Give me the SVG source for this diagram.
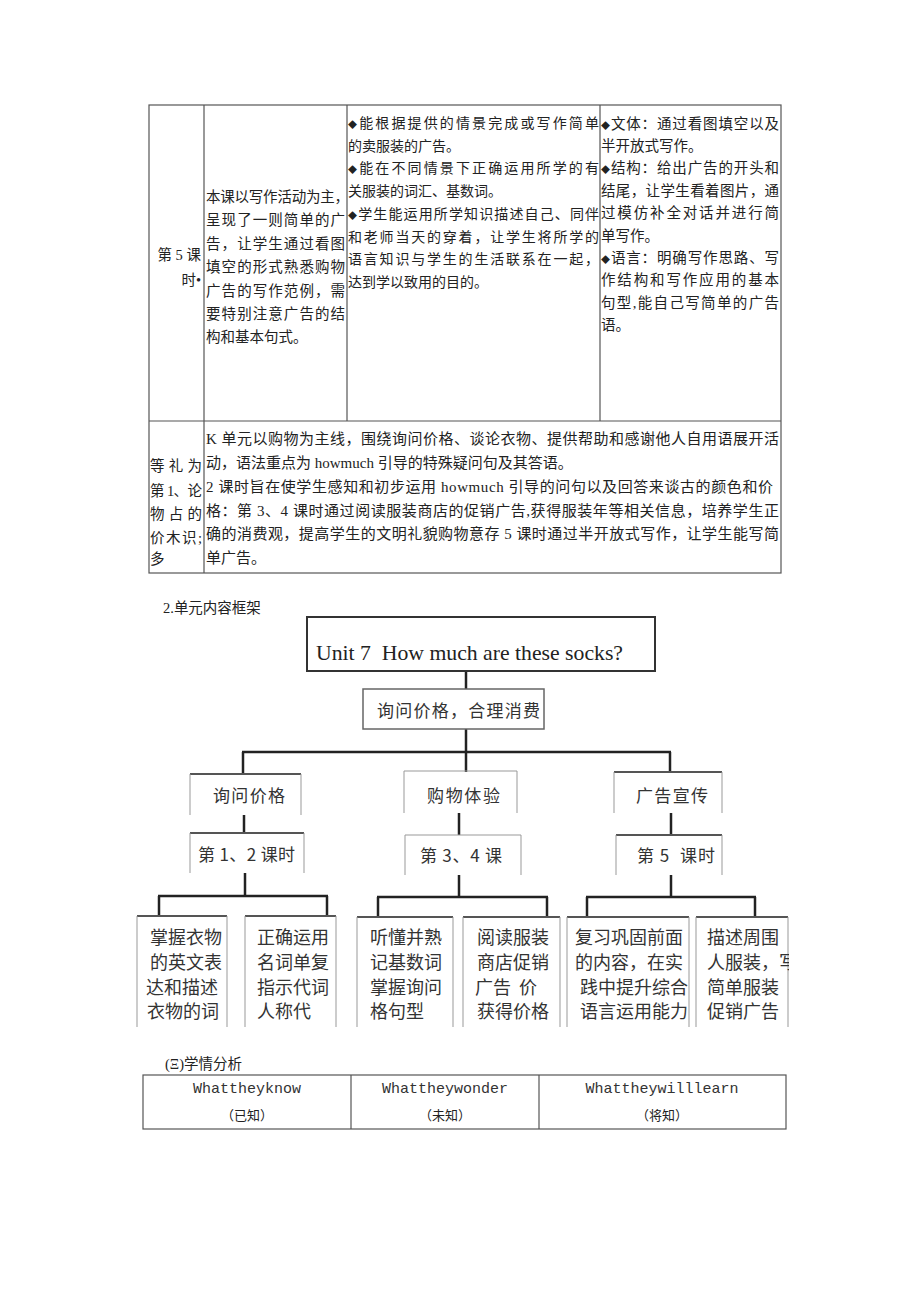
<svg xmlns="http://www.w3.org/2000/svg" width="920" height="1301" viewBox="0 0 920 1301">
<style>
.bg{fill:#ffffff}
.tl{stroke:#555;stroke-width:1.2;fill:none}
.cn{font-family:"Liberation Serif","Noto Sans CJK SC",serif;fill:#222}
.t14{font-size:14px}
.t145{font-size:14.5px}
.t15{font-size:15px}
.tr{font-family:"Noto Sans CJK SC",sans-serif;fill:#333;font-size:17px}
.lf{font-family:"Noto Sans CJK SC",sans-serif;fill:#333;font-size:18px}
.side{stroke:#999;stroke-width:1;fill:none}
.topk{stroke:#555;stroke-width:2;fill:none}
.topl{stroke:#999;stroke-width:1.2;fill:none}
.con{stroke:#222;stroke-width:2.5;fill:none}
.mono{font-family:"Liberation Mono",monospace;font-size:15px;fill:#333}
.dm{font-size:9px}
</style>
<defs>
<clipPath id="clipF"><rect x="696" y="900" width="93" height="140"/></clipPath>
</defs>
<rect class="bg" x="0" y="0" width="920" height="1301"/>

<g id="table1">
<rect class="tl" x="149" y="105" width="632" height="468"/>
<line class="tl" x1="204" y1="105" x2="204" y2="573"/>
<line class="tl" x1="347" y1="105" x2="347" y2="421"/>
<line class="tl" x1="600" y1="105" x2="600" y2="421"/>
<line class="tl" x1="149" y1="421" x2="781" y2="421"/>

<g id="cell-r1c1" class="cn t145">
<text x="201" y="260" text-anchor="end">第 5 课</text>
<text x="201" y="285" text-anchor="end">时•</text>
</g>
<g id="cell-r1c2" class="cn t145">
<text x="206" y="202" textLength="143" lengthAdjust="spacing">本课以写作活动为主，</text>
<text x="206" y="225.4" textLength="139" lengthAdjust="spacing">呈现了一则简单的广</text>
<text x="206" y="248.8" textLength="139" lengthAdjust="spacing">告，让学生通过看图</text>
<text x="206" y="272.2" textLength="139" lengthAdjust="spacing">填空的形式熟悉购物</text>
<text x="206" y="295.6" textLength="139" lengthAdjust="spacing">广告的写作范例，需</text>
<text x="206" y="319" textLength="139" lengthAdjust="spacing">要特别注意广告的结</text>
<text x="206" y="342.4">构和基本句式。</text>
</g>
<g id="cell-r1c3" class="cn t14">
<text x="348" y="128" textLength="251" lengthAdjust="spacing"><tspan class="dm">◆</tspan>能根据提供的情景完成或写作简单</text>
<text x="348" y="150.7">的卖服装的广告。</text>
<text x="348" y="173.4" textLength="251" lengthAdjust="spacing"><tspan class="dm">◆</tspan>能在不同情景下正确运用所学的有</text>
<text x="348" y="196.1">关服装的词汇、基数词。</text>
<text x="348" y="218.8" textLength="251" lengthAdjust="spacing"><tspan class="dm">◆</tspan>学生能运用所学知识描述自己、同伴</text>
<text x="348" y="241.5" textLength="251" lengthAdjust="spacing">和老师当天的穿着，让学生将所学的</text>
<text x="348" y="264.2" textLength="251" lengthAdjust="spacing">语言知识与学生的生活联系在一起，</text>
<text x="348" y="286.9">达到学以致用的目的。</text>
</g>
<g id="cell-r1c4" class="cn t145">
<text x="601" y="128.5" textLength="178" lengthAdjust="spacing"><tspan class="dm">◆</tspan>文体：通过看图填空以及</text>
<text x="601" y="150.9">半开放式写作。</text>
<text x="601" y="173.3" textLength="178" lengthAdjust="spacing"><tspan class="dm">◆</tspan>结构：给出广告的开头和</text>
<text x="601" y="195.7" textLength="178" lengthAdjust="spacing">结尾，让学生看着图片，通</text>
<text x="601" y="218.1" textLength="178" lengthAdjust="spacing">过模仿补全对话并进行简</text>
<text x="601" y="240.5">单写作。</text>
<text x="601" y="262.9" textLength="178" lengthAdjust="spacing"><tspan class="dm">◆</tspan>语言：明确写作思路、写</text>
<text x="601" y="285.3" textLength="178" lengthAdjust="spacing">作结构和写作应用的基本</text>
<text x="601" y="307.7" textLength="178" lengthAdjust="spacing">句型,能自己写简单的广告</text>
<text x="601" y="330.1">语。</text>
</g>
<g id="cell-r2c1" class="cn t145">
<text x="150" y="470.5" textLength="52" lengthAdjust="spacing">等 礼 为</text>
<text x="150" y="495.5" textLength="52" lengthAdjust="spacing">第 1、论</text>
<text x="150" y="518.5" textLength="52" lengthAdjust="spacing">物 占 的</text>
<text x="150" y="542.5" textLength="52" lengthAdjust="spacing">价木识;</text>
<text x="150" y="563.5">多</text>
</g>
<g id="cell-r2c2" class="cn t15">
<text x="206" y="443.7" textLength="573" lengthAdjust="spacing">K 单元以购物为主线，围绕询问价格、谈论衣物、提供帮助和感谢他人自用语展开活</text>
<text x="206" y="467.7">动，语法重点为 howmuch 引导的特殊疑问句及其答语。</text>
<text x="206" y="491.7" textLength="567" lengthAdjust="spacing">2 课时旨在使学生感知和初步运用 howmuch 引导的问句以及回答来谈古的颜色和价</text>
<text x="206" y="515.7" textLength="573" lengthAdjust="spacing">格：第 3、4 课时通过阅读服装商店的促销广告,获得服装年等相关信息，培养学生正</text>
<text x="206" y="538.7" textLength="573" lengthAdjust="spacing">确的消费观，提高学生的文明礼貌购物意存 5 课时通过半开放式写作，让学生能写简</text>
<text x="206" y="562.7">单广告。</text>
</g>
</g>

<text id="title2" class="cn t145" x="163" y="613" fill="#333">2.单元内容框架</text>

<g id="connectors">
<line class="con" x1="466" y1="671" x2="466" y2="689"/>
<line class="con" x1="466" y1="729" x2="466" y2="772"/>
<line class="con" x1="242" y1="752" x2="671" y2="752"/>
<line class="con" x1="243" y1="752" x2="243" y2="774"/>
<line class="con" x1="670" y1="752" x2="670" y2="772"/>
<line class="con" x1="244" y1="815" x2="244" y2="833"/>
<line class="con" x1="459" y1="813" x2="459" y2="835"/>
<line class="con" x1="671" y1="813" x2="671" y2="835"/>
<line class="con" x1="245" y1="873" x2="245" y2="896"/>
<line class="con" x1="158" y1="896" x2="328" y2="896"/>
<line class="con" x1="159" y1="896" x2="159" y2="916"/>
<line class="con" x1="327" y1="896" x2="327" y2="916"/>
<line class="con" x1="459" y1="875" x2="459" y2="897"/>
<line class="con" x1="377" y1="897" x2="548" y2="897"/>
<line class="con" x1="378" y1="897" x2="378" y2="917"/>
<line class="con" x1="547" y1="897" x2="547" y2="917"/>
<line class="con" x1="671" y1="875" x2="671" y2="897"/>
<line class="con" x1="586" y1="897" x2="756" y2="897"/>
<line class="con" x1="587" y1="897" x2="587" y2="917"/>
<line class="con" x1="755" y1="897" x2="755" y2="917"/>
</g>

<g id="node-unit">
<rect x="307" y="617" width="348" height="54" fill="#fff" stroke="#333" stroke-width="2"/>
<text x="316" y="660" font-family="Liberation Serif, serif" font-size="21.5" fill="#222" textLength="307" lengthAdjust="spacingAndGlyphs">Unit 7&#160;&#160;How much are these socks?</text>
</g>
<g id="node-theme">
<rect x="363" y="689" width="181" height="40" fill="#fff" stroke="#666" stroke-width="1.5"/>
<text class="tr" x="377" y="716.5" textLength="163" lengthAdjust="spacing">询问价格，合理消费</text>
</g>

<g id="node-l3a">
<line class="topk" x1="190" y1="774" x2="301" y2="774"/>
<path class="side" d="M190 774V815M301 774V815"/>
<text class="tr" x="213" y="801.5" textLength="72" lengthAdjust="spacing">询问价格</text>
</g>
<g id="node-l3b">
<line class="topl" x1="404" y1="771" x2="517" y2="771"/>
<path class="side" d="M404 771V813M517 771V813"/>
<text class="tr" x="427" y="801.5" textLength="73" lengthAdjust="spacing">购物体验</text>
</g>
<g id="node-l3c">
<line class="topk" x1="614" y1="772" x2="722" y2="772"/>
<path class="side" d="M614 772V813M722 772V813"/>
<text class="tr" x="636" y="801.5" textLength="72" lengthAdjust="spacing">广告宣传</text>
</g>

<g id="node-l4a">
<line class="topk" x1="190" y1="833" x2="304" y2="833"/>
<path class="side" d="M190 833V873M304 833V873"/>
<text class="tr" x="198" y="860.5" textLength="97" lengthAdjust="spacing">第 1、2 课时</text>
</g>
<g id="node-l4b">
<line class="topl" x1="405" y1="835" x2="521" y2="835"/>
<path class="side" d="M405 835V875M521 835V875"/>
<text class="tr" x="420" y="862" textLength="82" lengthAdjust="spacing">第 3、4 课</text>
</g>
<g id="node-l4c">
<line class="topk" x1="616" y1="835" x2="722" y2="835"/>
<path class="side" d="M616 835V875M722 835V875"/>
<text class="tr" x="637" y="862" textLength="78" lengthAdjust="spacing">第 5&#160;&#160;课时</text>
</g>

<g id="leaf-a">
<line class="topk" x1="137" y1="916" x2="227" y2="916"/>
<path class="side" d="M137 916V1027M227 916V1027"/>
<text class="lf" x="150" y="944">掌握衣物</text>
<text class="lf" x="150" y="969">的英文表</text>
<text class="lf" x="146" y="994">达和描述</text>
<text class="lf" x="147" y="1018">衣物的词</text>
</g>
<g id="leaf-b">
<line class="topk" x1="245" y1="916" x2="336" y2="916"/>
<path class="side" d="M245 916V1027M336 916V1027"/>
<text class="lf" x="257" y="944">正确运用</text>
<text class="lf" x="257" y="969">名词单复</text>
<text class="lf" x="257" y="994">指示代词</text>
<text class="lf" x="257" y="1018">人称代</text>
</g>
<g id="leaf-c">
<line class="topk" x1="357" y1="917" x2="453" y2="917"/>
<path class="side" d="M357 917V1027M453 917V1027"/>
<text class="lf" x="370" y="944">听懂并熟</text>
<text class="lf" x="370" y="969">记基数词</text>
<text class="lf" x="370" y="994">掌握询问</text>
<text class="lf" x="370" y="1018">格句型</text>
</g>
<g id="leaf-d">
<line class="topk" x1="463" y1="917" x2="560" y2="917"/>
<path class="side" d="M463 917V1027M560 917V1027"/>
<text class="lf" x="477" y="944">阅读服装</text>
<text class="lf" x="477" y="969">商店促销</text>
<text class="lf" x="475" y="994">广告</text>
<text class="lf" x="519" y="994">价</text>
<text class="lf" x="477" y="1018">获得价格</text>
</g>
<g id="leaf-e">
<line class="topk" x1="567" y1="917" x2="689" y2="917"/>
<path class="side" d="M567 917V1027M689 917V1027"/>
<text class="lf" x="575" y="944">复习巩固前面</text>
<text class="lf" x="575" y="969">的内容，在实</text>
<text class="lf" x="580" y="994">践中提升综合</text>
<text class="lf" x="580" y="1018">语言运用能力</text>
</g>
<g id="leaf-f">
<line class="topk" x1="696" y1="917" x2="788" y2="917"/>
<path class="side" d="M696 917V1027M788 917V1027"/>
<g clip-path="url(#clipF)">
<text class="lf" x="707" y="944">描述周围</text>
<text class="lf" x="707" y="969">人服装，写</text>
<text class="lf" x="707" y="994">简单服装</text>
<text class="lf" x="707" y="1018">促销广告</text>
</g>
</g>

<text id="title3" class="cn t145" x="165" y="1069" fill="#333">(Ξ)学情分析</text>

<g id="table2">
<rect class="tl" x="143" y="1075" width="643" height="54"/>
<line class="tl" x1="351" y1="1075" x2="351" y2="1129"/>
<line class="tl" x1="539" y1="1075" x2="539" y2="1129"/>
<text class="mono" x="247" y="1093" text-anchor="middle">Whattheyknow</text>
<text class="mono" x="445" y="1093" text-anchor="middle">Whattheywonder</text>
<text class="mono" x="662" y="1093" text-anchor="middle">Whattheywilllearn</text>
<text class="cn" x="247" y="1120" font-size="13" text-anchor="middle">（已知）</text>
<text class="cn" x="445" y="1120" font-size="13" text-anchor="middle">（未知）</text>
<text class="cn" x="662" y="1120" font-size="13" text-anchor="middle">（将知）</text>
</g>
</svg>
